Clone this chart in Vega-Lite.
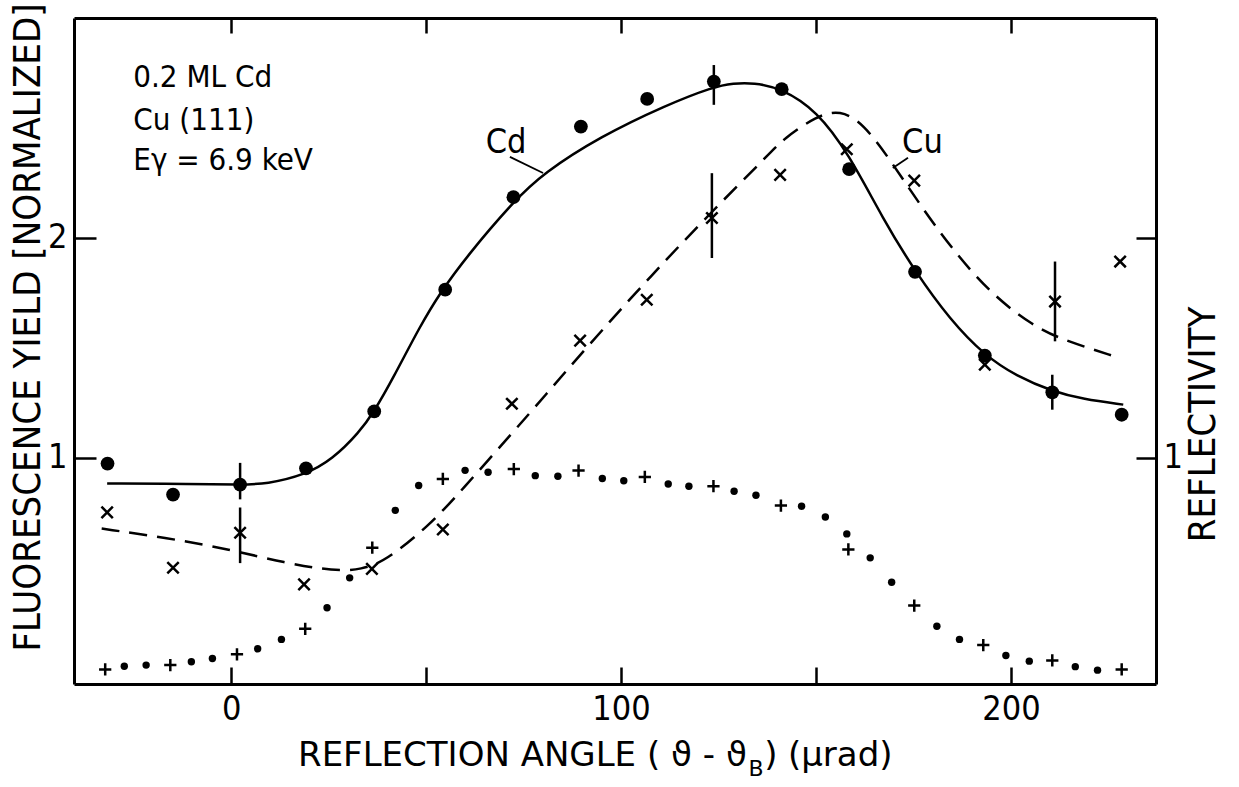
{
  "$schema": "https://vega.github.io/schema/vega-lite/v6.json",
  "autosize": "none",
  "width": 1082,
  "height": 666,
  "padding": {"left": 74, "top": 18, "right": 83, "bottom": 103},
  "background": "white",
  "config": {
    "view": {"stroke": null},
    "axis": {
      "grid": false,
      "domainColor": "black",
      "domainWidth": 3,
      "tickColor": "black",
      "tickWidth": 2.5,
      "labelColor": "black",
      "labelFont": "DejaVu Sans Condensed, DejaVu Sans",
      "labelFontSize": 34,
      "titleFont": "DejaVu Sans Condensed, DejaVu Sans",
      "titleFontWeight": "normal",
      "titleColor": "black"
    }
  },
  "datasets": {
    "cd": [
      {"x": -31.7, "y": 0.973}, {"x": -14.9, "y": 0.832}, {"x": 2.3, "y": 0.877}, {"x": 19.2, "y": 0.951},
      {"x": 36.7, "y": 1.21}, {"x": 54.9, "y": 1.764}, {"x": 72.4, "y": 2.185}, {"x": 89.7, "y": 2.506},
      {"x": 106.7, "y": 2.632}, {"x": 123.8, "y": 2.711}, {"x": 141.2, "y": 2.676}, {"x": 158.5, "y": 2.312},
      {"x": 175.4, "y": 1.845}, {"x": 193.3, "y": 1.464}, {"x": 210.6, "y": 1.297}, {"x": 228.4, "y": 1.195}
    ],
    "cu": [
      {"x": -31.8, "y": 0.751}, {"x": -14.9, "y": 0.499}, {"x": 2.3, "y": 0.658}, {"x": 18.7, "y": 0.423},
      {"x": 36.1, "y": 0.494}, {"x": 54.3, "y": 0.673}, {"x": 72.0, "y": 1.245}, {"x": 89.5, "y": 1.532},
      {"x": 106.6, "y": 1.718}, {"x": 123.3, "y": 2.09}, {"x": 140.8, "y": 2.286}, {"x": 157.9, "y": 2.403},
      {"x": 175.2, "y": 2.26}, {"x": 193.3, "y": 1.423}, {"x": 211.3, "y": 1.71}, {"x": 228.0, "y": 1.892}
    ],
    "refl_dot": [
      {"x": -27.4, "y": 0.051}, {"x": -21.8, "y": 0.056}, {"x": -10.2, "y": 0.071}, {"x": -4.8, "y": 0.086},
      {"x": 6.8, "y": 0.13}, {"x": 12.9, "y": 0.173}, {"x": 24.6, "y": 0.317}, {"x": 30.4, "y": 0.453},
      {"x": 42.1, "y": 0.76}, {"x": 48.1, "y": 0.873}, {"x": 60.0, "y": 0.942}, {"x": 65.9, "y": 0.933},
      {"x": 78.0, "y": 0.918}, {"x": 83.8, "y": 0.915}, {"x": 95.2, "y": 0.905}, {"x": 100.7, "y": 0.895},
      {"x": 112.1, "y": 0.88}, {"x": 117.4, "y": 0.87}, {"x": 129.0, "y": 0.847}, {"x": 134.6, "y": 0.829},
      {"x": 146.3, "y": 0.779}, {"x": 152.4, "y": 0.73}, {"x": 157.9, "y": 0.653}, {"x": 163.9, "y": 0.544},
      {"x": 169.4, "y": 0.433}, {"x": 181.0, "y": 0.233}, {"x": 186.8, "y": 0.173}, {"x": 198.7, "y": 0.1},
      {"x": 204.7, "y": 0.074}, {"x": 216.5, "y": 0.049}, {"x": 222.2, "y": 0.033}
    ],
    "refl_plus": [
      {"x": -32.3, "y": 0.036}, {"x": -15.6, "y": 0.056}, {"x": 1.5, "y": 0.105}, {"x": 19.0, "y": 0.221},
      {"x": 36.2, "y": 0.59}, {"x": 54.3, "y": 0.903}, {"x": 72.5, "y": 0.948}, {"x": 89.1, "y": 0.941},
      {"x": 106.1, "y": 0.912}, {"x": 123.7, "y": 0.87}, {"x": 141.0, "y": 0.782}, {"x": 158.3, "y": 0.582},
      {"x": 175.2, "y": 0.327}, {"x": 192.9, "y": 0.147}, {"x": 210.6, "y": 0.077}, {"x": 228.4, "y": 0.036}
    ],
    "cd_fit": [
      {"x": -31.8, "y": 0.882}, {"x": -10.0, "y": 0.88}, {"x": 2.3, "y": 0.877}, {"x": 9.0, "y": 0.879}, {"x": 19.2, "y": 0.923},
      {"x": 25.9, "y": 0.991}, {"x": 32.8, "y": 1.113}, {"x": 36.7, "y": 1.21}, {"x": 41.5, "y": 1.36},
      {"x": 48.5, "y": 1.6}, {"x": 53.6, "y": 1.75}, {"x": 60.4, "y": 1.915}, {"x": 72.4, "y": 2.165},
      {"x": 80.1, "y": 2.294}, {"x": 94.6, "y": 2.46}, {"x": 111.7, "y": 2.605}, {"x": 123.8, "y": 2.688},
      {"x": 128.8, "y": 2.703}, {"x": 133.9, "y": 2.706}, {"x": 141.2, "y": 2.68}, {"x": 150.2, "y": 2.578},
      {"x": 158.3, "y": 2.385}, {"x": 167.3, "y": 2.082}, {"x": 175.4, "y": 1.847}, {"x": 184.4, "y": 1.627},
      {"x": 193.3, "y": 1.464}, {"x": 201.5, "y": 1.37}, {"x": 210.7, "y": 1.301}, {"x": 218.5, "y": 1.266},
      {"x": 228.8, "y": 1.241}
    ],
    "cu_fit": [
      {"x": -33.2, "y": 0.677}, {"x": -16.5, "y": 0.635}, {"x": -0.3, "y": 0.582}, {"x": 13.7, "y": 0.521},
      {"x": 26.6, "y": 0.483}, {"x": 33.5, "y": 0.491}, {"x": 39.5, "y": 0.529}, {"x": 50.7, "y": 0.688},
      {"x": 59.3, "y": 0.855}, {"x": 71.5, "y": 1.1}, {"x": 80.9, "y": 1.29}, {"x": 89.9, "y": 1.476},
      {"x": 108.3, "y": 1.84}, {"x": 123.7, "y": 2.127}, {"x": 137.4, "y": 2.37}, {"x": 141.6, "y": 2.45},
      {"x": 150.2, "y": 2.555}, {"x": 156.2, "y": 2.582}, {"x": 162.1, "y": 2.521}, {"x": 169.0, "y": 2.355},
      {"x": 175.8, "y": 2.173}, {"x": 184.4, "y": 1.96}, {"x": 194.6, "y": 1.749}, {"x": 205.7, "y": 1.597},
      {"x": 214.3, "y": 1.529}, {"x": 227.1, "y": 1.458}
    ],
    "errbars": [
      {"x": 2.3, "lo": 0.81, "hi": 0.976}, {"x": 123.8, "lo": 2.605, "hi": 2.786}, {"x": 210.6, "lo": 1.218, "hi": 1.377},
      {"x": 2.3, "lo": 0.52, "hi": 0.773}, {"x": 123.3, "lo": 1.908, "hi": 2.294}, {"x": 211.3, "lo": 1.529, "hi": 1.892}
    ],
    "leaders": [
      {"x": 71.5, "y": 2.368, "x2": 80.0, "y2": 2.295},
      {"x": 173.6, "y": 2.364, "x2": 169.7, "y2": 2.318}
    ],
    "curve_labels": [
      {"x": 70.5, "y": 2.386, "text": "Cd"},
      {"x": 177.3, "y": 2.386, "text": "Cu"}
    ],
    "notes": [
      {"x": -25.1, "y": 2.686, "text": "0.2 ML Cd"},
      {"x": -25.1, "y": 2.491, "text": "Cu (111)"},
      {"x": -25.1, "y": 2.309, "text": "Eγ = 6.9 keV"}
    ],
    "xtitle_main": [{"x": 132.3, "y": -0.405, "text": "REFLECTION ANGLE ( ϑ - ϑ"}],
    "xtitle_sub": [{"x": 132.7, "y": -0.45, "text": "B"}],
    "xtitle_end": [{"x": 136.7, "y": -0.405, "text": ")"}, {"x": 142.8, "y": -0.405, "text": "(μrad)"}]
  },
  "layer": [
    {
      "data": {"name": "cd"},
      "mark": {"type": "point", "filled": true, "color": "black", "opacity": 1, "size": 190},
      "encoding": {
        "x": {"field": "x", "type": "quantitative",
              "scale": {"domain": [-40.3, 237.2], "nice": false, "zero": false},
              "axis": {"orient": "bottom", "values": [0, 50, 100, 150, 200], "tickSize": -17, "labelPadding": 25,
                       "labelExpr": "datum.value % 100 == 0 ? datum.label : ''", "title": null, "labelFlush": false}},
        "y": {"field": "y", "type": "quantitative",
              "scale": {"domain": [-0.03, 3.0], "nice": false, "zero": false},
              "axis": {"orient": "left", "values": [1, 2], "tickSize": -22, "labelPadding": 29,
                       "title": "FLUORESCENCE YIELD [NORMALIZED]", "titleFontSize": 38,
                       "titleAngle": 270, "titleX": -46, "titleY": 309, "titleAlign": "center", "titleBaseline": "middle"}}
      }
    },
    {
      "data": {"name": "cu"},
      "mark": {"type": "point", "shape": "M-1,-1L1,1M-1,1L1,-1", "filled": false, "stroke": "black", "strokeWidth": 2.5, "opacity": 1, "size": 130},
      "encoding": {
        "x": {"field": "x", "type": "quantitative",
              "scale": {"domain": [-40.3, 237.2], "nice": false, "zero": false},
              "axis": {"orient": "top", "values": [0, 50, 100, 150, 200], "tickSize": -15, "labels": false, "title": null}},
        "y": {"field": "y", "type": "quantitative",
              "scale": {"domain": [-0.03, 3.0], "nice": false, "zero": false},
              "axis": {"orient": "right", "values": [1, 2], "tickSize": -20, "labelPadding": 27,
                       "labelExpr": "datum.value == 1 ? '1' : ''",
                       "title": "REFLECTIVITY", "titleFontSize": 38,
                       "titleAngle": 270, "titleX": 47, "titleY": 406, "titleAlign": "center", "titleBaseline": "middle"}}
      }
    },
    {
      "data": {"name": "refl_dot"},
      "mark": {"type": "point", "filled": true, "color": "black", "opacity": 1, "size": 55},
      "encoding": {
        "x": {"field": "x", "type": "quantitative", "scale": {"domain": [-40.3, 237.2], "nice": false, "zero": false}, "axis": null},
        "y": {"field": "y", "type": "quantitative", "scale": {"domain": [-0.03, 3.0], "nice": false, "zero": false}, "axis": null}
      }
    },
    {
      "data": {"name": "refl_plus"},
      "mark": {"type": "point", "shape": "M-1,0L1,0M0,-1L0,1", "filled": false, "stroke": "black", "strokeWidth": 2.5, "opacity": 1, "size": 150},
      "encoding": {
        "x": {"field": "x", "type": "quantitative", "scale": {"domain": [-40.3, 237.2], "nice": false, "zero": false}, "axis": null},
        "y": {"field": "y", "type": "quantitative", "scale": {"domain": [-0.03, 3.0], "nice": false, "zero": false}, "axis": null}
      }
    },
    {
      "data": {"name": "cd_fit"},
      "mark": {"type": "line", "color": "black", "strokeWidth": 2.5, "interpolate": "basis"},
      "encoding": {
        "x": {"field": "x", "type": "quantitative", "scale": {"domain": [-40.3, 237.2], "nice": false, "zero": false}, "axis": null},
        "y": {"field": "y", "type": "quantitative", "scale": {"domain": [-0.03, 3.0], "nice": false, "zero": false}, "axis": null}
      }
    },
    {
      "data": {"name": "cu_fit"},
      "mark": {"type": "line", "color": "black", "strokeWidth": 2.5, "strokeDash": [18, 10], "interpolate": "basis"},
      "encoding": {
        "x": {"field": "x", "type": "quantitative", "scale": {"domain": [-40.3, 237.2], "nice": false, "zero": false}, "axis": null},
        "y": {"field": "y", "type": "quantitative", "scale": {"domain": [-0.03, 3.0], "nice": false, "zero": false}, "axis": null}
      }
    },
    {
      "data": {"name": "errbars"},
      "mark": {"type": "rule", "color": "black", "strokeWidth": 2.5},
      "encoding": {
        "x": {"field": "x", "type": "quantitative", "scale": {"domain": [-40.3, 237.2], "nice": false, "zero": false}, "axis": null},
        "y": {"field": "lo", "type": "quantitative", "scale": {"domain": [-0.03, 3.0], "nice": false, "zero": false}, "axis": null},
        "y2": {"field": "hi"}
      }
    },
    {
      "data": {"name": "leaders"},
      "mark": {"type": "rule", "color": "black", "strokeWidth": 1.8},
      "encoding": {
        "x": {"field": "x", "type": "quantitative", "scale": {"domain": [-40.3, 237.2], "nice": false, "zero": false}, "axis": null},
        "y": {"field": "y", "type": "quantitative", "scale": {"domain": [-0.03, 3.0], "nice": false, "zero": false}, "axis": null},
        "x2": {"field": "x2"},
        "y2": {"field": "y2"}
      }
    },
    {
      "data": {"name": "curve_labels"},
      "mark": {"type": "text", "color": "black", "font": "DejaVu Sans Condensed, DejaVu Sans", "fontSize": 34, "align": "center", "baseline": "alphabetic"},
      "encoding": {
        "x": {"field": "x", "type": "quantitative", "scale": {"domain": [-40.3, 237.2], "nice": false, "zero": false}, "axis": null},
        "y": {"field": "y", "type": "quantitative", "scale": {"domain": [-0.03, 3.0], "nice": false, "zero": false}, "axis": null},
        "text": {"field": "text"}
      }
    },
    {
      "data": {"name": "notes"},
      "mark": {"type": "text", "color": "black", "font": "DejaVu Sans Condensed, DejaVu Sans", "fontSize": 31, "align": "left", "baseline": "alphabetic"},
      "encoding": {
        "x": {"field": "x", "type": "quantitative", "scale": {"domain": [-40.3, 237.2], "nice": false, "zero": false}, "axis": null},
        "y": {"field": "y", "type": "quantitative", "scale": {"domain": [-0.03, 3.0], "nice": false, "zero": false}, "axis": null},
        "text": {"field": "text"}
      }
    },
    {
      "data": {"name": "xtitle_main"},
      "mark": {"type": "text", "color": "black", "font": "DejaVu Sans", "fontSize": 34, "align": "right", "baseline": "alphabetic"},
      "encoding": {
        "x": {"field": "x", "type": "quantitative", "scale": {"domain": [-40.3, 237.2], "nice": false, "zero": false}, "axis": null},
        "y": {"field": "y", "type": "quantitative", "scale": {"domain": [-0.03, 3.0], "nice": false, "zero": false}, "axis": null},
        "text": {"field": "text"}
      }
    },
    {
      "data": {"name": "xtitle_sub"},
      "mark": {"type": "text", "color": "black", "font": "DejaVu Sans", "fontSize": 22, "align": "left", "baseline": "alphabetic"},
      "encoding": {
        "x": {"field": "x", "type": "quantitative", "scale": {"domain": [-40.3, 237.2], "nice": false, "zero": false}, "axis": null},
        "y": {"field": "y", "type": "quantitative", "scale": {"domain": [-0.03, 3.0], "nice": false, "zero": false}, "axis": null},
        "text": {"field": "text"}
      }
    },
    {
      "data": {"name": "xtitle_end"},
      "mark": {"type": "text", "color": "black", "font": "DejaVu Sans", "fontSize": 34, "align": "left", "baseline": "alphabetic"},
      "encoding": {
        "x": {"field": "x", "type": "quantitative", "scale": {"domain": [-40.3, 237.2], "nice": false, "zero": false}, "axis": null},
        "y": {"field": "y", "type": "quantitative", "scale": {"domain": [-0.03, 3.0], "nice": false, "zero": false}, "axis": null},
        "text": {"field": "text"}
      }
    }
  ],
  "resolve": {"axis": {"x": "independent", "y": "independent"}}
}
